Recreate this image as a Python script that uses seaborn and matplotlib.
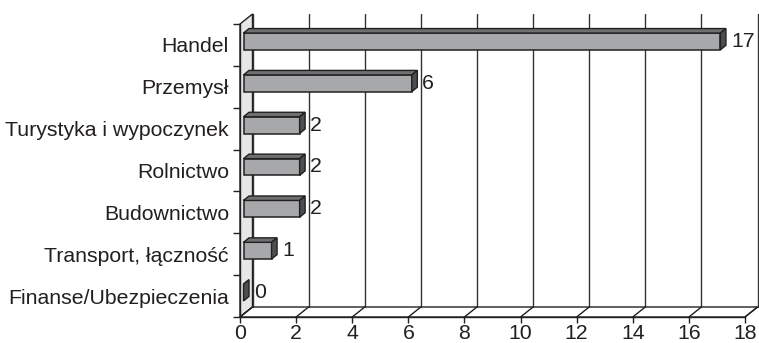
import numpy as np
import pandas as pd
import matplotlib
matplotlib.use("Agg")
import matplotlib.pyplot as plt
import matplotlib.transforms as mtransforms
from matplotlib.patches import Polygon
from matplotlib.lines import Line2D
import seaborn as sns

# dane
branze = ["Handel", "Przemysł", "Turystyka i wypoczynek", "Rolnictwo",
          "Budownictwo", "Transport, łączność", "Finanse/Ubezpieczenia"]
liczba = [17, 6, 2, 2, 2, 1, 0]
x_ticks = list(range(0, 19, 2))

# kolory / efekt 3D (w pikselach)
FRONT = "#a7a8aa"
TOP = "#6e6f70"
SIDE = "#4b4f4f"
WALL = "#e6e7e8"
LINE = "#231f20"
DEPTH = (12.5, 10.0)
BAR_FRONT = (3.5, 3.5)
BAR_BACK = (9.0, 8.0)
FS = 15.3

sns.set_theme(style="white")
plt.rcParams["font.family"] = ["Liberation Sans", "DejaVu Sans"]

fig = plt.figure(figsize=(7.59, 3.43), dpi=100)
ax = fig.add_axes([240 / 759, 26 / 343, 505 / 759, 293 / 343])

df = pd.DataFrame({"branza": branze, "liczba": liczba})
sns.barplot(data=df, x="liczba", y="branza", orient="h", color=FRONT,
            saturation=1, edgecolor=LINE, linewidth=1.1, width=0.4, ax=ax)

ax.set_xlim(0, 18)
ax.set_ylim(6.5, -0.5)
ax.set_xlabel("")
ax.set_ylabel("")
ax.patch.set_alpha(0)
for s in ["top", "right"]:
    ax.spines[s].set_visible(False)
for s in ["left", "bottom"]:
    ax.spines[s].set_color(LINE)
    ax.spines[s].set_linewidth(1.0)
    ax.spines[s].set_zorder(4)

ax.set_xticks(x_ticks)
ax.set_xticklabels([str(t) for t in x_ticks])
ax.tick_params(axis="x", bottom=True, length=4, width=1, color=LINE,
               labelsize=FS, labelcolor=LINE, pad=1)
ax.set_yticks(np.arange(-0.5, 7, 1))
ax.set_yticklabels([])
ax.set_yticks(np.arange(len(branze)), labels=branze, minor=True)
ax.tick_params(axis="y", which="major", left=True, length=5, width=1, color=LINE)
ax.tick_params(axis="y", which="minor", left=True, length=0, labelsize=FS,
               labelcolor=LINE, pad=8)

ident = mtransforms.IdentityTransform()


def px(x, y, off=(0, 0)):
    p = ax.transData.transform((x, y))
    return (p[0] + off[0], p[1] + off[1])


# sciana boczna i podloga
wall = Polygon([px(0, 6.5), px(0, 6.5, DEPTH), px(0, -0.5, DEPTH), px(0, -0.5)],
               closed=True, fc=WALL, ec=LINE, lw=1.0, transform=ident,
               clip_on=False, zorder=0.5)
ax.add_patch(wall)
floor = Polygon([px(0, 6.5), px(18, 6.5), px(18, 6.5, DEPTH), px(0, 6.5, DEPTH)],
                closed=True, fc="white", ec=LINE, lw=1.0, transform=ident,
                clip_on=False, zorder=0.5)
ax.add_patch(floor)

# linie siatki
for v in x_ticks:
    a, b = px(v, 6.5, DEPTH), px(v, -0.5, DEPTH)
    ax.add_line(Line2D([a[0], b[0]], [a[1], b[1]], color="#333333", lw=1.0,
                       transform=ident, clip_on=False, zorder=0.6))
    c = px(v, 6.5)
    ax.add_line(Line2D([c[0], a[0]], [c[1], a[1]], color=LINE, lw=1.0,
                       transform=ident, clip_on=False, zorder=0.6))

# slupki 3D
off = mtransforms.ScaledTranslation(BAR_FRONT[0] / 100, BAR_FRONT[1] / 100,
                                    fig.dpi_scale_trans)
for p, val in zip(ax.patches[:len(liczba)], liczba):
    x0, y0, w, h = p.get_x(), p.get_y(), p.get_width(), p.get_height()
    a = px(x0, y0)
    b = px(x0 + w, y0 + h)
    left, right = min(a[0], b[0]), max(a[0], b[0])
    top, bot = max(a[1], b[1]), min(a[1], b[1])
    p.set_transform(ax.transData + off)
    p.set_clip_on(False)
    p.set_zorder(3)
    fx, fy = BAR_FRONT
    bx, by = BAR_BACK
    topface = Polygon([(left + fx, top + fy), (right + fx, top + fy),
                       (right + bx, top + by), (left + bx, top + by)],
                      closed=True, fc=TOP, ec=LINE, lw=1.0, transform=ident,
                      clip_on=False, zorder=3)
    side = Polygon([(right + fx, bot + fy), (right + bx, bot + by),
                    (right + bx, top + by), (right + fx, top + fy)],
                   closed=True, fc=SIDE, ec=LINE, lw=1.0, transform=ident,
                   clip_on=False, zorder=3)
    ax.add_patch(topface)
    ax.add_patch(side)
    ax.text(right + bx + 5, (top + bot) / 2 + fy, str(val), transform=ident,
            ha="left", va="center", fontsize=FS, color=LINE, zorder=5)

fig.savefig("out.png", dpi=100)
